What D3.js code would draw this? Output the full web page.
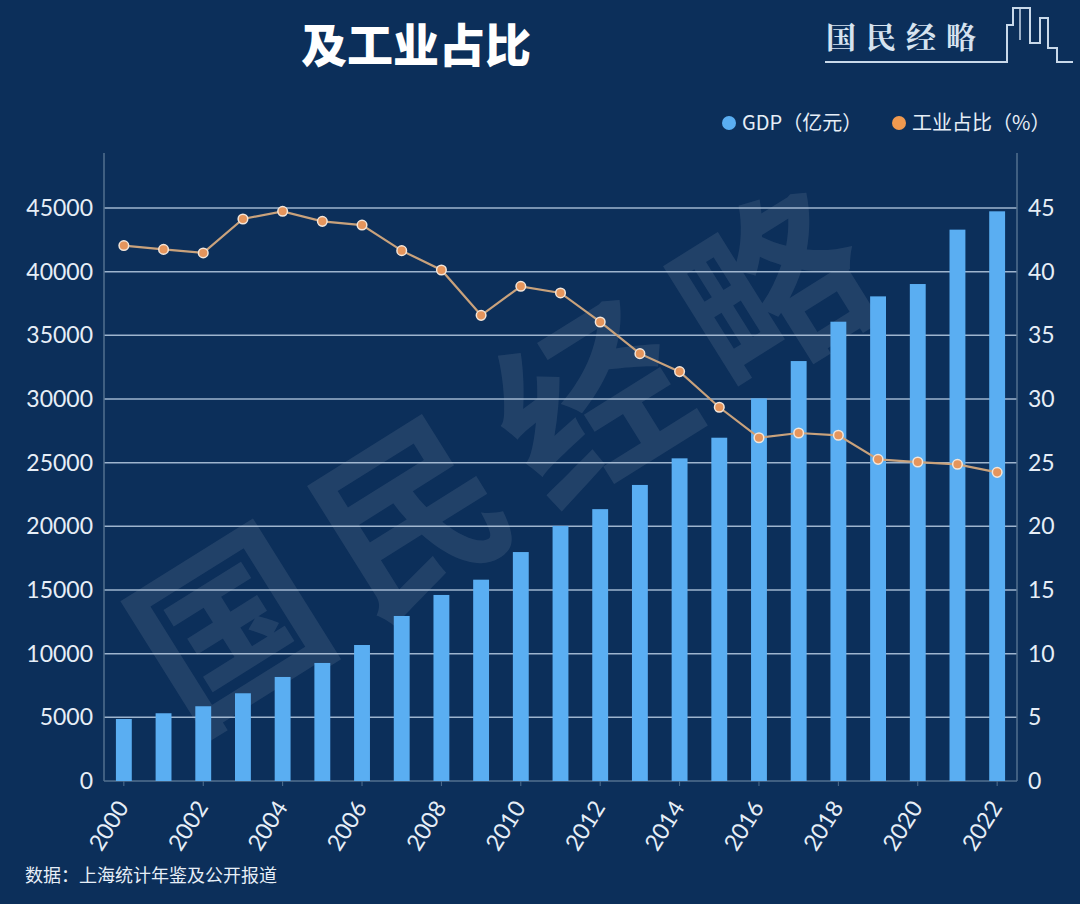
<!DOCTYPE html>
<html>
<head>
<meta charset="utf-8">
<script src="https://cdn.jsdelivr.net/npm/d3@7"></script>
<style>
  html, body { margin: 0; padding: 0; background: #0c2f5a; }
  svg { display: block; }
  text { font-family: "Noto Sans CJK SC", "Noto Sans", sans-serif; }
</style>
</head>
<body>
<svg id="chart" width="1080" height="904"></svg>
<script>
// data
var years = ["2000","2001","2002","2003","2004","2005","2006","2007","2008","2009","2010",
             "2011","2012","2013","2014","2015","2016","2017","2018","2019","2020","2021","2022"];
var gdp = [4870, 5320, 5870, 6890, 8170, 9270, 10680, 12960, 14610, 15810, 17980,
           20030, 21350, 23250, 25340, 26960, 30050, 32980, 36070, 38060, 39030, 43300, 44740];
var industryShare = [42.05, 41.75, 41.47, 44.14, 44.74, 43.95, 43.66, 41.65, 40.13, 36.57, 38.85,
                     38.33, 36.05, 33.56, 32.15, 29.35, 26.96, 27.33, 27.15, 25.26, 25.05, 24.87, 24.24];
var leftTicks = [0, 5000, 10000, 15000, 20000, 25000, 30000, 35000, 40000, 45000];
var rightTicks = [0, 5, 10, 15, 20, 25, 30, 35, 40, 45];
var xLabels = ["2000","2002","2004","2006","2008","2010","2012","2014","2016","2018","2020","2022"];
var legendItems = ["GDP（亿元）", "工业占比（%）"];
var titleText = "及工业占比";
var sourceText = "数据：上海统计年鉴及公开报道";
var watermark = "国民经略";

var svg = d3.select('#chart');
// note: "top" is taken by window.top, so plotTop
var plotLeft = 104, plotRight = 1017, plotTop = 153, plotBottom = 781;

svg.append('rect').attr('width', 1080).attr('height', 904).attr('fill', '#0c2f5a');

var x = d3.scaleBand().domain(years).range([plotLeft, plotRight]).paddingInner(0.6).paddingOuter(0.3);
var y = d3.scaleLinear().domain([0, 45000]).range([plotBottom, 208]);
var y2 = d3.scaleLinear().domain([0, 45]).range([plotBottom, 208]);
var tickFont = 'Lato, "Noto Sans", sans-serif';

// watermark behind everything
svg.append('text')
    .attr('transform', 'translate(515,455) rotate(-32)')
    .attr('text-anchor', 'middle')
    .attr('dy', '0.35em')
    .attr('font-size', 185)
    .attr('font-weight', 700)
    .attr('letter-spacing', 28)
    .attr('fill', '#ffffff')
    .attr('fill-opacity', 0.09)
    .text(watermark);

// grid
svg.append('g').selectAll('line.grid')
    .data(leftTicks.slice(1))
  .enter().append('line')
    .attr('class', 'grid')
    .attr('x1', plotLeft).attr('x2', plotRight)
    .attr('y1', function(d) { return y(d) }).attr('y2', function(d) { return y(d) })
    .attr('stroke', '#b9cde3').attr('stroke-opacity', 0.85).attr('stroke-width', 1.5);

// axis lines
svg.append('line').attr('x1', plotLeft).attr('x2', plotLeft).attr('y1', plotTop).attr('y2', plotBottom)
    .attr('stroke', '#52708f').attr('stroke-width', 1.5);
svg.append('line').attr('x1', plotRight).attr('x2', plotRight).attr('y1', plotTop).attr('y2', plotBottom)
    .attr('stroke', '#52708f').attr('stroke-width', 1.5);
svg.append('line').attr('x1', plotLeft).attr('x2', plotRight).attr('y1', plotBottom).attr('y2', plotBottom)
    .attr('stroke', '#52708f').attr('stroke-width', 1.5);

// bars
svg.append('g').selectAll('rect.bar')
    .data(gdp)
  .enter().append('rect')
    .attr('class', 'bar')
    .attr('x', function(d, i) { return x(years[i]) })
    .attr('y', function(d) { return y(d) })
    .attr('width', x.bandwidth())
    .attr('height', function(d) { return plotBottom - y(d) })
    .attr('fill', '#5aaef2');

// left axis labels
var yAxisL = d3.axisLeft(y).tickValues(leftTicks).tickFormat(d3.format('d')).tickSize(0).tickPadding(11);
var gL = svg.append('g').attr('transform', 'translate(' + plotLeft + ',0)').call(yAxisL);
gL.select('.domain').remove();
gL.selectAll('text').attr('fill', '#e6eef7').attr('font-size', 23).style('font-family', tickFont);

// right axis labels
var yAxisR = d3.axisRight(y2).tickValues(rightTicks).tickFormat(d3.format('d')).tickSize(0).tickPadding(11);
var gR = svg.append('g').attr('transform', 'translate(' + plotRight + ',0)').call(yAxisR);
gR.select('.domain').remove();
gR.selectAll('text').attr('fill', '#e6eef7').attr('font-size', 23).style('font-family', tickFont);

// x axis
var xAxis = d3.axisBottom(x).tickValues(xLabels).tickSize(5).tickPadding(4);
var gX = svg.append('g').attr('transform', 'translate(0,' + plotBottom + ')').call(xAxis);
gX.select('.domain').remove();
gX.selectAll('line').attr('stroke', '#52708f');
gX.selectAll('text')
    .attr('fill', '#e6eef7').attr('font-size', 23)
    .style('font-family', tickFont)
    .attr('text-anchor', 'end')
    .attr('transform', 'translate(-1,22) rotate(-58)')
    .attr('dy', '0.35em')
    .attr('y', 0).attr('x', 0);

// line
var line = d3.line()
    .x(function(d, i) { return x(years[i]) + x.bandwidth() / 2 })
    .y(function(d) { return y2(d) });
svg.append('path')
    .datum(industryShare)
    .attr('d', line)
    .attr('fill', 'none')
    .attr('stroke', '#c9a27c')
    .attr('stroke-width', 2.2);
svg.append('g').selectAll('circle.pt')
    .data(industryShare)
  .enter().append('circle')
    .attr('class', 'pt')
    .attr('cx', function(d, i) { return x(years[i]) + x.bandwidth() / 2 })
    .attr('cy', function(d) { return y2(d) })
    .attr('r', 4.8)
    .attr('fill', '#e5955c')
    .attr('stroke', '#f3e6da')
    .attr('stroke-width', 1.5);

// legend
var legendColors = ['#5aaef2', '#f0994f'];
var legendX = [729, 899];
var lg = svg.append('g').selectAll('g.legend')
    .data(legendItems)
  .enter().append('g')
    .attr('class', 'legend')
    .attr('transform', function(d, i) { return 'translate(' + legendX[i] + ',123)' });
lg.append('circle').attr('r', 7).attr('fill', function(d, i) { return legendColors[i] });
lg.append('text').attr('x', 13).attr('dy', '0.36em').attr('font-size', 20)
    .attr('fill', '#e6eef7').text(function(d) { return d });

// title
svg.append('text')
    .attr('x', 416).attr('y', 62)
    .attr('text-anchor', 'middle')
    .attr('font-size', 46)
    .attr('font-weight', 900)
    .attr('fill', '#ffffff')
    .text(titleText);

// logo top right
var logo = svg.append('g');
logo.append('text')
    .attr('x', 826).attr('y', 48)
    .attr('font-size', 30)
    .attr('letter-spacing', 10)
    .attr('fill', '#d6e3f0')
    .style('font-family', '"Noto Serif CJK SC", "Noto Sans CJK SC", serif')
    .attr('font-weight', 700)
    .text(watermark);
logo.append('path')
    .attr('d', 'M825,62 H1007 V25 H1013 V8 H1030 V43 H1040 V18 H1048 V48 H1057 V62 H1073')
    .attr('fill', 'none')
    .attr('stroke', '#c9d9ea')
    .attr('stroke-width', 2);
logo.append('path')
    .attr('d', 'M1020,8 V40')
    .attr('fill', 'none')
    .attr('stroke', '#c9d9ea')
    .attr('stroke-width', 1.5);

// source
svg.append('text')
    .attr('x', 25).attr('y', 882)
    .attr('font-size', 18)
    .attr('fill', '#e6eef7')
    .text(sourceText);
</script>
</body>
</html>
